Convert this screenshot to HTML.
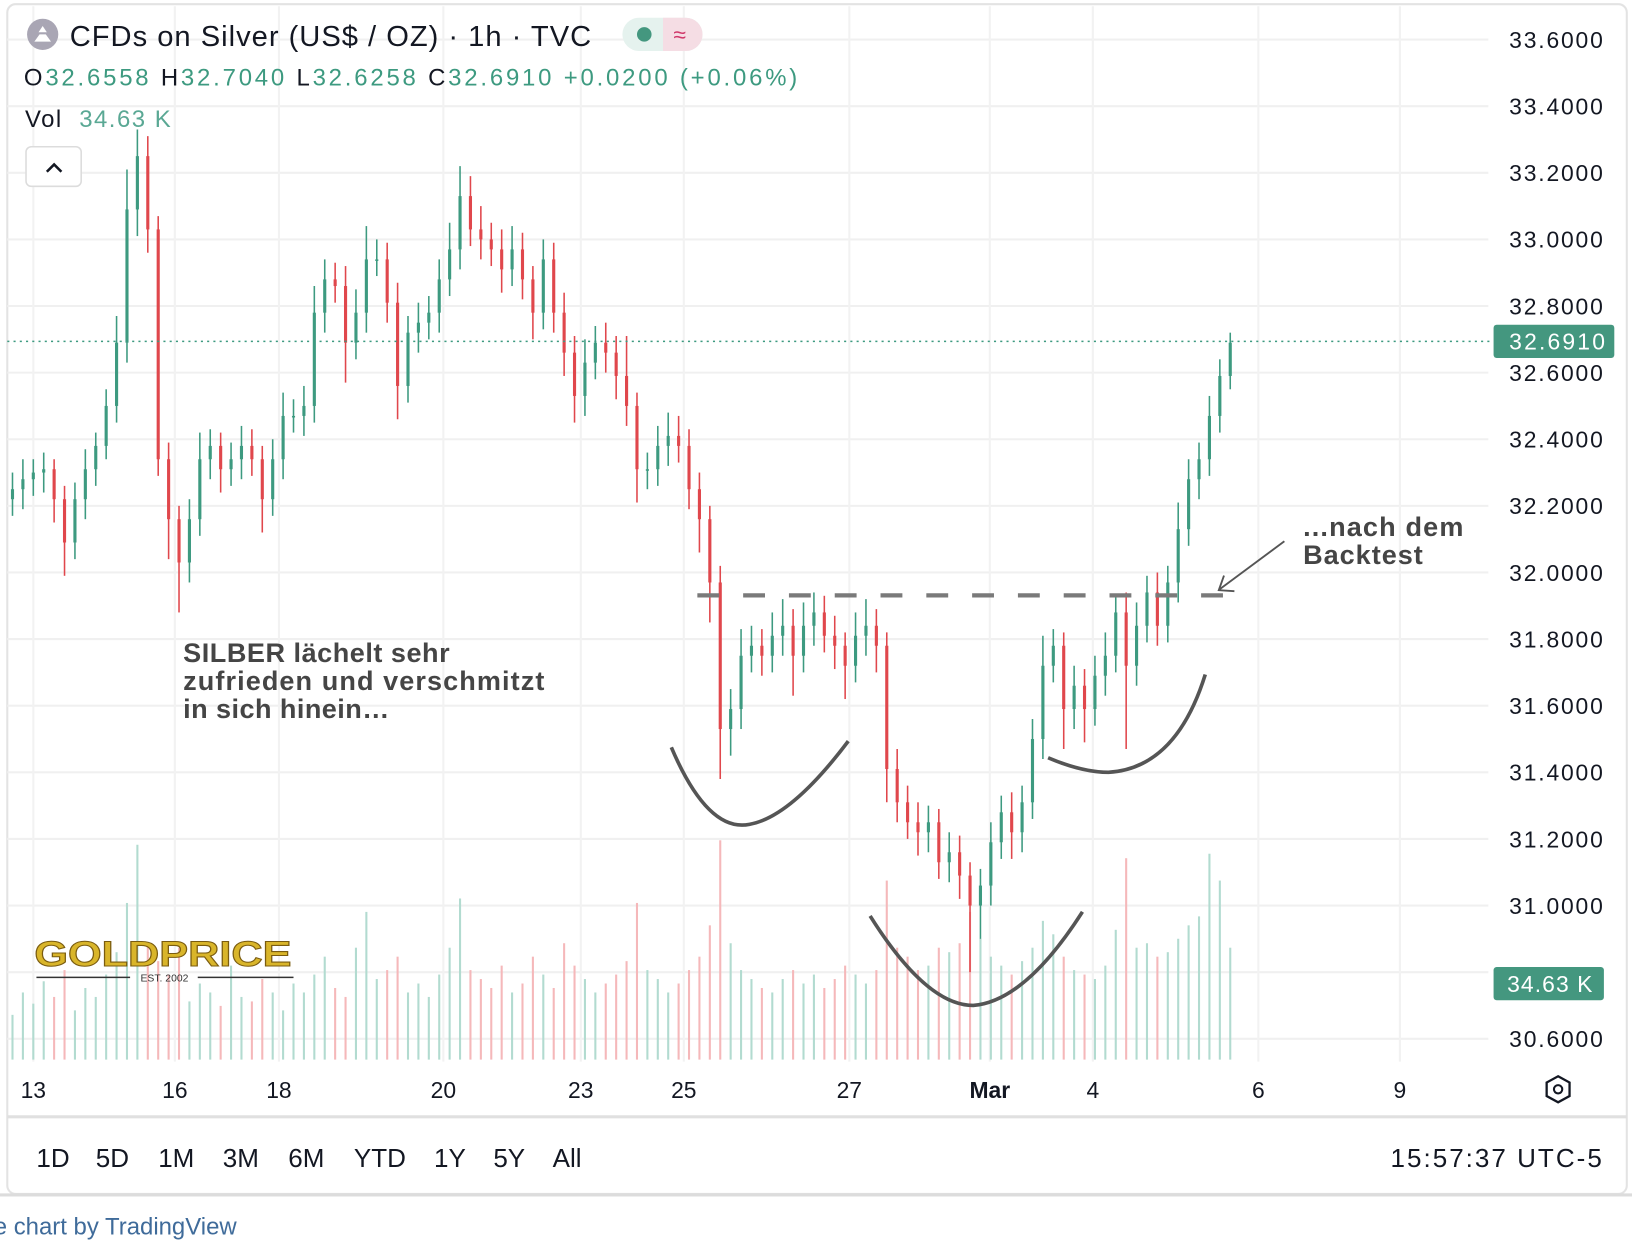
<!DOCTYPE html>
<html><head><meta charset="utf-8"><style>
html,body{margin:0;padding:0;background:#fff;width:1632px;height:1248px;overflow:hidden}
svg{display:block}
text{font-family:"Liberation Sans",sans-serif}
</style></head><body>
<svg id="chart" width="1632" height="1248" viewBox="0 0 1568 1199" preserveAspectRatio="none" xmlns="http://www.w3.org/2000/svg">
<rect x="0" y="0" width="1568" height="1199" fill="#fff"/>
<rect x="7" y="4" width="1556" height="1143" fill="none" stroke="#e3e3e3" stroke-width="2" rx="8"/>
<line x1="7" y1="1073" x2="1563" y2="1073" stroke="#e0e0e0" stroke-width="3"/>
<line x1="0" y1="1148" x2="1568" y2="1148" stroke="#dcdcdc" stroke-width="3"/>
<g id="grid"></g>
<g id="vol"></g>
<g id="candles"></g>
<g id="yaxis"></g>
<g id="xaxis"></g>

<line x1="7" y1="328" x2="1435" y2="328" stroke="#3d9a80" stroke-width="1.5" stroke-dasharray="2 4"/>
<rect x="1435" y="312" width="116" height="32" rx="3" fill="#44977f"/>
<text x="1542" y="336" font-size="22" fill="#fff" text-anchor="end" textLength="92">32.6910</text>
<rect x="1435" y="929" width="106" height="32" rx="3" fill="#44977f"/>
<text x="1530" y="953" font-size="22" fill="#fff" text-anchor="end" textLength="82">34.63 K</text>

<!-- annotations -->
<line x1="670" y1="572" x2="1195" y2="572" stroke="#7a7a7a" stroke-width="4" stroke-dasharray="21 23"/>
<path d="M645,718 Q680,800 720,792 Q760,785 815,712" fill="none" stroke="#555" stroke-width="3.5"/>
<path d="M836,880 Q890,966 935,966 Q985,962 1040,876" fill="none" stroke="#555" stroke-width="3.5"/>
<path d="M1007,728 Q1040,742 1065,742 Q1130,738 1158,648" fill="none" stroke="#555" stroke-width="3.5"/>
<line x1="1234" y1="520" x2="1172" y2="566" stroke="#555" stroke-width="1.8"/>
<polyline points="1176,553 1171,567 1186,568" fill="none" stroke="#555" stroke-width="1.8"/>
<g font-size="26" font-weight="bold" fill="#454545">
<text x="176" y="636" textLength="256">SILBER lächelt sehr</text>
<text x="176" y="663" textLength="347">zufrieden und verschmitzt</text>
<text x="176" y="690" textLength="198">in sich hinein…</text>
</g>
<g font-size="26" font-weight="bold" fill="#454545">
<text x="1252" y="515" textLength="154">...nach dem</text>
<text x="1252" y="542" textLength="115">Backtest</text>
</g>

<!-- goldprice logo -->
<g>
<text x="33" y="928" font-size="34" font-weight="bold" fill="#d9b52a" stroke="#7a5c10" stroke-width="1" textLength="247" lengthAdjust="spacingAndGlyphs">GOLDPRICE</text>
<line x1="35" y1="939" x2="125" y2="939" stroke="#333" stroke-width="1.5"/>
<line x1="190" y1="939" x2="282" y2="939" stroke="#333" stroke-width="1.5"/>
<text x="158" y="943" font-size="10" fill="#333" text-anchor="middle" font-family="Liberation Serif">EST. 2002</text>
</g>

<!-- header -->
<circle cx="41" cy="33" r="15" fill="#a9a6b4"/>
<path d="M33,40 L49,40 L44,33 L38,33 Z M37,31 L45,31 L41,25 Z" fill="#fff"/>
<text x="67" y="44" font-size="28" fill="#131722" textLength="501">CFDs on Silver (US$ / OZ) · 1h · TVC</text>
<rect x="598" y="17" width="77" height="32" rx="16" fill="#e5f2ee"/>
<path d="M637,17 H659 A16,16 0 0 1 659,49 H637 Z" fill="#f5dde4"/>
<circle cx="619" cy="33" r="7" fill="#44977f"/>
<text x="653" y="41" font-size="22" fill="#d0386a" text-anchor="middle">≈</text>
<g font-size="23">
<text x="23" y="82" textLength="743"><tspan fill="#131722">O</tspan><tspan fill="#3d9a80">32.6558 </tspan><tspan fill="#131722">H</tspan><tspan fill="#3d9a80">32.7040 </tspan><tspan fill="#131722">L</tspan><tspan fill="#3d9a80">32.6258 </tspan><tspan fill="#131722">C</tspan><tspan fill="#3d9a80">32.6910 +0.0200 (+0.06%)</tspan></text>
</g>
<text x="24" y="122" font-size="23" textLength="140"><tspan fill="#131722">Vol </tspan><tspan fill="#5aa894" dx="8">34.63 K</tspan></text>
<rect x="25" y="141" width="53" height="38" rx="5" fill="#fff" stroke="#dcdcdc" stroke-width="1.5"/>
<polyline points="45,165 52,158 59,165" fill="none" stroke="#131722" stroke-width="2.5"/>

<!-- settings icon -->
<g>
<polygon points="1497,1034 1508,1040 1508,1053 1497,1059 1486,1053 1486,1040" fill="none" stroke="#131722" stroke-width="2.2"/>
<circle cx="1497" cy="1046.5" r="4" fill="none" stroke="#131722" stroke-width="2"/>
</g>

<!-- bottom toolbar -->
<g font-size="25" fill="#131722">
<text x="35" y="1121">1D</text>
<text x="92" y="1121">5D</text>
<text x="152" y="1121">1M</text>
<text x="214" y="1121">3M</text>
<text x="277" y="1121">6M</text>
<text x="340" y="1121">YTD</text>
<text x="417" y="1121">1Y</text>
<text x="474" y="1121">5Y</text>
<text x="531" y="1121">All</text>
<text x="1336" y="1121" textLength="203">15:57:37 UTC-5</text>
</g>
<text x="-6" y="1186" font-size="23" fill="#3f6b9a">e chart by TradingView</text>
</svg>
<script>
const closes=[32.25,32.28,32.30,32.31,32.22,32.09,32.22,32.31,32.38,32.50,32.69,33.09,33.25,33.03,32.34,32.16,32.03,32.16,32.34,32.38,32.31,32.34,32.38,32.34,32.22,32.34,32.47,32.47,32.50,32.78,32.88,32.86,32.69,32.78,32.94,32.94,32.81,32.56,32.72,32.75,32.78,32.88,32.97,33.13,33.03,33.00,32.97,32.91,32.97,32.88,32.78,32.94,32.78,32.66,32.53,32.63,32.69,32.66,32.59,32.50,32.31,32.31,32.38,32.41,32.38,32.25,32.16,31.97,31.53,31.59,31.75,31.78,31.75,31.81,31.84,31.75,31.84,31.88,31.81,31.78,31.72,31.81,31.84,31.78,31.41,31.31,31.25,31.22,31.25,31.13,31.16,31.09,31.00,31.06,31.19,31.28,31.22,31.31,31.50,31.72,31.78,31.59,31.66,31.59,31.69,31.75,31.88,31.72,31.84,31.94,31.84,31.97,32.13,32.28,32.34,32.47,32.59,32.69];
const wickUp=[0.05,0.06,0.04,0.05,0.03,0.04,0.05,0.06,0.04,0.05,0.08,0.12,0.08,0.06,0.04,0.05,0.04,0.06,0.08,0.05,0.04,0.05,0.06,0.05,0.04,0.06,0.07,0.05,0.06,0.08,0.06,0.05,0.06,0.07,0.1,0.06,0.05,0.06,0.05,0.06,0.05,0.06,0.08,0.09,0.06,0.07,0.05,0.06,0.07,0.05,0.04,0.06,0.05,0.06,0.05,0.07,0.05,0.06,0.05,0.12,0.04,0.05,0.06,0.07,0.06,0.05,0.05,0.04,0.05,0.06,0.08,0.06,0.05,0.07,0.08,0.05,0.07,0.06,0.05,0.06,0.04,0.07,0.08,0.05,0.04,0.06,0.05,0.06,0.05,0.04,0.06,0.05,0.04,0.05,0.06,0.05,0.06,0.05,0.06,0.09,0.05,0.04,0.06,0.05,0.06,0.07,0.05,0.06,0.07,0.05,0.06,0.05,0.08,0.06,0.05,0.06,0.05,0.03];
const wickDn=[0.05,0.06,0.05,0.06,0.07,0.1,0.05,0.06,0.05,0.04,0.05,0.06,0.08,0.07,0.05,0.12,0.15,0.06,0.05,0.06,0.07,0.05,0.06,0.05,0.1,0.05,0.06,0.05,0.06,0.05,0.06,0.05,0.12,0.05,0.06,0.05,0.06,0.1,0.05,0.06,0.05,0.06,0.05,0.06,0.05,0.06,0.05,0.07,0.05,0.06,0.08,0.05,0.06,0.07,0.08,0.06,0.05,0.06,0.07,0.06,0.1,0.06,0.05,0.06,0.05,0.06,0.1,0.12,0.15,0.08,0.06,0.05,0.06,0.05,0.06,0.12,0.05,0.06,0.05,0.07,0.1,0.05,0.06,0.08,0.1,0.06,0.05,0.07,0.06,0.05,0.06,0.07,0.2,0.1,0.06,0.05,0.08,0.06,0.05,0.06,0.05,0.12,0.06,0.1,0.05,0.06,0.05,0.25,0.06,0.05,0.06,0.05,0.06,0.05,0.06,0.05,0.05,0.04];
const volumes=[20,30,25,35,28,40,22,32,28,38,48,70,96,52,44,38,50,26,34,30,24,42,28,26,36,30,22,34,30,38,46,32,28,50,66,36,40,46,30,34,28,38,50,72,40,36,32,42,30,34,46,38,32,52,42,36,30,34,38,44,70,40,36,30,34,40,46,60,98,52,40,36,32,30,36,40,34,38,32,36,42,38,34,40,80,50,46,40,42,50,48,52,66,54,46,42,38,44,50,62,56,46,40,38,36,42,58,90,50,52,46,48,54,60,64,92,80,50];
const priceTicks=[33.6,33.4,33.2,33.0,32.8,32.6,32.4,32.2,32.0,31.8,31.6,31.4,31.2,31.0,30.8,30.6];
const timeLabels=["13","16","18","20","23","25","27","Mar","4","6","9"];
const timeIndex=[2,15.6,25.6,41.4,54.6,64.5,80.4,93.9,103.8,119.7,133.3];
const NS="http://www.w3.org/2000/svg";
const yScale=p=>38+(33.6-p)*320;
const xScale=i=>12+i*10;
const volMax=100;
const vScale=v=>1018-v/volMax*215;
function mk(tag,attrs,parent){const e=document.createElementNS(NS,tag);for(const k in attrs)e.setAttribute(k,attrs[k]);parent.appendChild(e);return e;}
const grid=document.getElementById('grid'),yaxis=document.getElementById('yaxis'),xaxis=document.getElementById('xaxis');
priceTicks.forEach(p=>{
  const l=mk('line',{x1:7,x2:1430,y1:yScale(p),y2:yScale(p),stroke:'#f0f0f0','stroke-width':2},grid);
  
  
  if(p===30.8) return;
  const t=mk('text',{x:1450,y:yScale(p)+8,'font-size':22,fill:'#131722',textLength:90},yaxis);
  
  
  t.textContent=p.toFixed(4);
});
timeLabels.forEach((lab,k)=>{
  const x=xScale(timeIndex[k]);
  const l=mk('line',{x1:x,x2:x,y1:6,y2:1020,stroke:'#f2f2f2','stroke-width':2},grid);
  
  
  const t=mk('text',{x:x,y:1055,'font-size':22,fill:'#131722','text-anchor':'middle','font-weight':lab==='Mar'?'bold':'normal'},xaxis);
  
  
  t.textContent=lab;
});
const vol=document.getElementById('vol'),cg=document.getElementById('candles');
closes.forEach((c,i)=>{
  const o=i===0?c-0.03:closes[i-1];
  const up=c>=o;
  const col=up?'#3d9a80':'#e0474c';
  const x=xScale(i);
  const v=mk('rect',{x:x-1,y:vScale(volumes[i]),width:2,height:1018-vScale(volumes[i]),fill:up?'#b2dbd0':'#f5b8ba'},vol);
  
  
  const hi=Math.max(o,c)+wickUp[i],lo=Math.min(o,c)-wickDn[i];
  const w=mk('line',{x1:x,x2:x,y1:yScale(hi),y2:yScale(lo),stroke:col,'stroke-width':1.5},cg);
  
  
  const top=yScale(Math.max(o,c)),bot=yScale(Math.min(o,c));
  const b=mk('rect',{x:x-1.5,y:top,width:3,height:Math.max(1.5,bot-top),fill:col},cg);
  
  
});
</script>
</body></html>
